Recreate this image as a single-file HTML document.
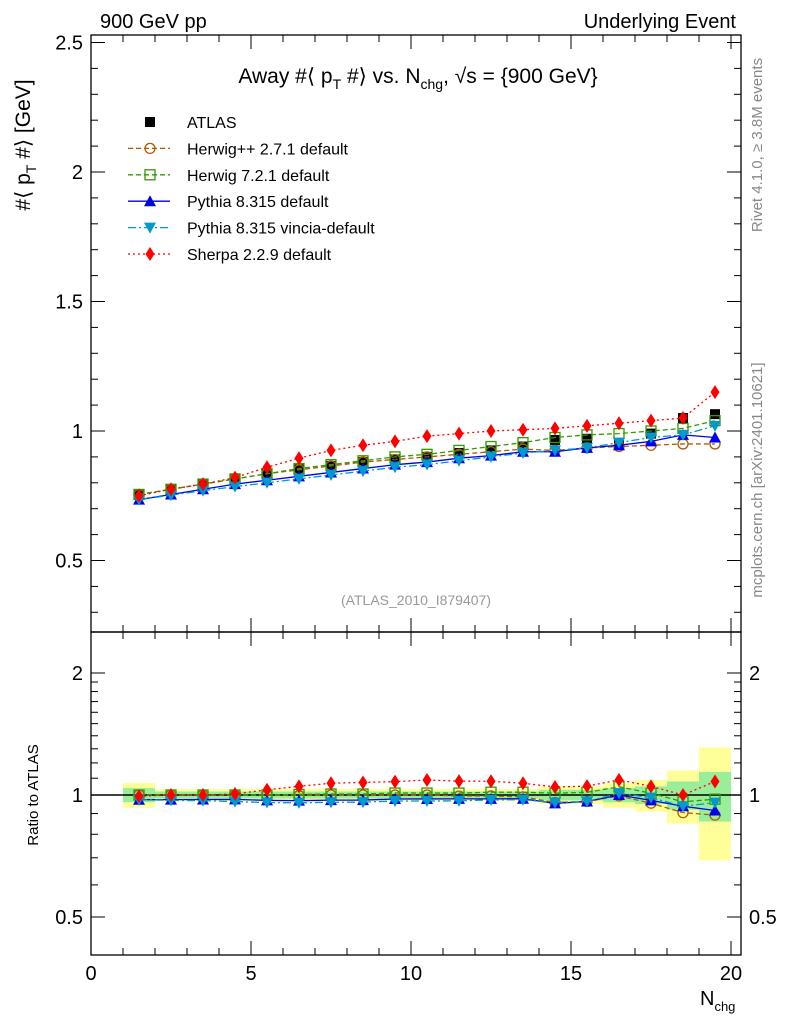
<!DOCTYPE html>
<html><head><meta charset="utf-8"><style>
body{margin:0;background:#fff}
svg{font-family:"Liberation Sans",sans-serif}
</style></head><body>
<svg id="c" width="786" height="1024" viewBox="0 0 786 1024" xmlns="http://www.w3.org/2000/svg">
<text x="100" y="28" font-size="20">900 GeV pp</text>
<text x="736" y="28" font-size="20" text-anchor="end">Underlying Event</text>
<text x="418" y="83" font-size="21" text-anchor="middle">Away #⟨ p<tspan font-size="14" dy="6">T</tspan><tspan dy="-6"> #⟩ vs. N</tspan><tspan font-size="14" dy="6">chg</tspan><tspan dy="-6">, √s = {900 GeV}</tspan></text>
<text transform="translate(30,145) rotate(-90)" font-size="21" text-anchor="middle">#⟨ p<tspan font-size="14" dy="6">T</tspan><tspan dy="-6"> #⟩ [GeV]</tspan></text>
<text transform="translate(38,795) rotate(-90)" font-size="15" text-anchor="middle">Ratio to ATLAS</text>
<text x="700" y="1005" font-size="20">N<tspan font-size="13" dy="6">chg</tspan></text>
<text transform="translate(762,145) rotate(-90)" font-size="15" fill="#888" text-anchor="middle">Rivet 4.1.0, ≥ 3.8M events</text>
<text transform="translate(762,480) rotate(-90)" font-size="15" fill="#888" text-anchor="middle">mcplots.cern.ch [arXiv:2401.10621]</text>
<text x="416" y="605" font-size="14" fill="#999" text-anchor="middle">(ATLAS_2010_I879407)</text>
<g id="ratio"></g><g id="main"></g><g id="axes"></g><g id="legend"></g>
</svg>
<script>
const nchg=[1.5,2.5,3.5,4.5,5.5,6.5,7.5,8.5,9.5,10.5,11.5,12.5,13.5,14.5,15.5,16.5,17.5,18.5,19.5];
const atlas=[0.755,0.775,0.795,0.815,0.835,0.852,0.865,0.88,0.89,0.90,0.915,0.925,0.94,0.965,0.97,0.945,0.99,1.05,1.065];
const herwigpp=[0.755,0.775,0.795,0.815,0.835,0.85,0.865,0.88,0.89,0.9,0.91,0.92,0.93,0.925,0.935,0.94,0.945,0.95,0.95];
const herwig7=[0.755,0.775,0.795,0.815,0.835,0.855,0.87,0.885,0.9,0.91,0.925,0.94,0.955,0.975,0.985,0.99,1.0,1.01,1.04];
const pythia=[0.735,0.755,0.775,0.795,0.81,0.825,0.84,0.855,0.87,0.88,0.895,0.905,0.92,0.92,0.935,0.945,0.96,0.985,0.975];
const vincia=[0.735,0.752,0.77,0.785,0.80,0.815,0.83,0.845,0.86,0.87,0.885,0.9,0.915,0.925,0.935,0.955,0.975,0.985,1.02];
const sherpa=[0.75,0.775,0.795,0.82,0.86,0.895,0.925,0.945,0.96,0.98,0.99,1.0,1.005,1.01,1.02,1.03,1.04,1.05,1.15];
const statErr=[0.04,0.02,0.02,0.02,0.02,0.02,0.02,0.02,0.02,0.02,0.02,0.02,0.02,0.03,0.03,0.04,0.05,0.08,0.14];
const totErr=[0.07,0.035,0.035,0.035,0.035,0.035,0.035,0.035,0.035,0.035,0.035,0.035,0.035,0.05,0.05,0.07,0.09,0.15,0.31];
const yTicks=[0.5,1,1.5,2,2.5];
const xTicks=[0,5,10,15,20];
const rTicks=[0.5,1,2];

const NS="http://www.w3.org/2000/svg";
const L=91,R=741,T=35,MB=632,RB=955;
const X=v=>91+32*v;
const Y=v=>690-259*v;
const RY=v=>795-122*Math.log2(v);
function mk(p,tag,a){const e=document.createElementNS(NS,tag);for(const k in a)e.setAttribute(k,a[k]);p.appendChild(e);return e;}
const main=document.getElementById('main'),ratio=document.getElementById('ratio'),axes=document.getElementById('axes'),leg=document.getElementById('legend');
const clipD=mk(document.getElementById('c'),'defs',{});
const cp1=mk(clipD,'clipPath',{id:'cm'});mk(cp1,'rect',{x:L,y:T,width:R-L,height:MB-T});
const cp2=mk(clipD,'clipPath',{id:'cr'});mk(cp2,'rect',{x:L,y:MB,width:R-L,height:RB-MB});
main.setAttribute('clip-path','url(#cm)');ratio.setAttribute('clip-path','url(#cr)');

nchg.forEach((x,i)=>{
  const y1=mk(ratio,'rect',{x:X(x-0.5),width:32,y:RY(1+totErr[i]),height:RY(1-totErr[i])-RY(1+totErr[i]),fill:'#ffff99'});
  
  
});
nchg.forEach((x,i)=>{
  const g1=mk(ratio,'rect',{x:X(x-0.5),width:32,y:RY(1+statErr[i]),height:RY(1-statErr[i])-RY(1+statErr[i]),fill:'#99ee99'});
  
  
});
mk(ratio,'line',{x1:L,x2:R,y1:RY(1),y2:RY(1),stroke:'#000','stroke-width':1.5});

function marker(p,type,cx,cy,col){
  if(type==='sq')return mk(p,'rect',{x:cx-5,y:cy-5,width:10,height:10,fill:'#000'});
  if(type==='circ')return mk(p,'circle',{cx,cy,r:5,fill:'none',stroke:col,'stroke-width':1.3});
  if(type==='osq')return mk(p,'rect',{x:cx-5,y:cy-5,width:10,height:10,fill:'none',stroke:col,'stroke-width':1.3});
  if(type==='tri')return mk(p,'path',{d:`M${cx},${cy-6}L${cx+6},${cy+5}L${cx-6},${cy+5}Z`,fill:col});
  if(type==='itri')return mk(p,'path',{d:`M${cx},${cy+6}L${cx+6},${cy-5}L${cx-6},${cy-5}Z`,fill:col});
  if(type==='dia')return mk(p,'path',{d:`M${cx},${cy-7}L${cx+4.5},${cy}L${cx},${cy+7}L${cx-4.5},${cy}Z`,fill:col});
}
const series=[
 {n:'herwigpp',d:herwigpp,c:'#b05a00',m:'circ',dash:'5,3',lab:'Herwig++ 2.7.1 default'},
 {n:'herwig7',d:herwig7,c:'#339900',m:'osq',dash:'5,3',lab:'Herwig 7.2.1 default'},
 {n:'pythia',d:pythia,c:'#0000ee',m:'tri',dash:'',lab:'Pythia 8.315 default'},
 {n:'vincia',d:vincia,c:'#0099cc',m:'itri',dash:'8,3,2,3',lab:'Pythia 8.315 vincia-default'},
 {n:'sherpa',d:sherpa,c:'#ff0000',m:'dia',dash:'2,3',lab:'Sherpa 2.2.9 default'}];

nchg.forEach((x,i)=>{
  const e=marker(main,'sq',X(x),Y(atlas[i]));
  
  
});
series.forEach(s=>{
  const pts=nchg.map((x,i)=>X(x)+','+Y(s.d[i])).join(' ');
  const l=mk(main,'polyline',{points:pts,fill:'none',stroke:s.c,'stroke-width':1.3,'stroke-dasharray':s.dash});
  
  
  const rp=nchg.map((x,i)=>X(x)+','+RY(s.d[i]/atlas[i])).join(' ');
  const rl=mk(ratio,'polyline',{points:rp,fill:'none',stroke:s.c,'stroke-width':1.3,'stroke-dasharray':s.dash});
  
  
  nchg.forEach((x,i)=>{
    const e=marker(main,s.m,X(x),Y(s.d[i]),s.c);
    
    
    const r=marker(ratio,s.m,X(x),RY(s.d[i]/atlas[i]),s.c);
    
    
  });
});

mk(axes,'rect',{x:L,y:T,width:R-L,height:MB-T,fill:'none',stroke:'#000','stroke-width':1.3});
mk(axes,'rect',{x:L,y:MB,width:R-L,height:RB-MB,fill:'none',stroke:'#000','stroke-width':1.3});
for(let v=0.3;v<=2.501;v+=0.1){const big=Math.abs(v*2-Math.round(v*2))<1e-6;const w=big?14:7;
  mk(axes,'line',{x1:L,x2:L+w,y1:Y(v),y2:Y(v),stroke:'#000'});mk(axes,'line',{x1:R,x2:R-w,y1:Y(v),y2:Y(v),stroke:'#000'});}
yTicks.forEach(v=>{const t=mk(axes,'text',{x:L-8,y:Y(v)+7,'font-size':20,'text-anchor':'end'});t.textContent=v;
  
  });
for(let v=0;v<=20;v++){const w=v%5===0?14:7;
  [T,MB].forEach(y0=>mk(axes,'line',{x1:X(v),x2:X(v),y1:y0,y2:y0+w,stroke:'#000'}));
  [MB,RB].forEach(y0=>mk(axes,'line',{x1:X(v),x2:X(v),y1:y0,y2:y0-w,stroke:'#000'}));}
xTicks.forEach(v=>{const t=mk(axes,'text',{x:X(v),y:980,'font-size':20,'text-anchor':'middle'});t.textContent=v;
  
  });
[0.5,0.6,0.7,0.8,0.9,1,1.1,1.2,1.3,1.4,1.5,1.6,1.7,1.8,1.9,2].forEach(v=>{const w=(v===0.5||v===1||v===2)?14:7;
  mk(axes,'line',{x1:L,x2:L+w,y1:RY(v),y2:RY(v),stroke:'#000'});mk(axes,'line',{x1:R,x2:R-w,y1:RY(v),y2:RY(v),stroke:'#000'});});
rTicks.forEach(v=>{const t=mk(axes,'text',{x:L-8,y:RY(v)+7,'font-size':20,'text-anchor':'end'});t.textContent=v;
  
  
  const t2=mk(axes,'text',{x:R+8,y:RY(v)+7,'font-size':20});t2.textContent=v;
  
  });

const rows=[{m:'sq',c:'#000',dash:null,lab:'ATLAS',n:'atlas'}].concat(series);
rows.forEach((s,i)=>{const y=122+i*26.4;const g=mk(leg,'g',{});
  
  
  if(s.dash!==null)mk(g,'line',{x1:128,x2:170,y1:y,y2:y,stroke:s.c,'stroke-width':1.3,'stroke-dasharray':s.dash});
  marker(g,s.m,150,y,s.c);
  const t=mk(g,'text',{x:187,y:y+6,'font-size':16});t.textContent=s.lab;});
</script>
</body></html>
